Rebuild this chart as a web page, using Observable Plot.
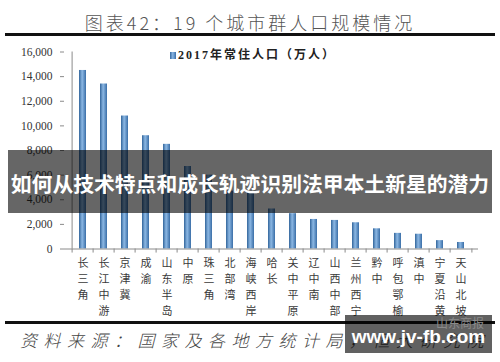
<!DOCTYPE html>
<html><head><meta charset="utf-8">
<script src="https://cdn.jsdelivr.net/npm/d3@7"></script>
<script src="https://cdn.jsdelivr.net/npm/@observablehq/plot@0.6"></script>
<style>
body{margin:0;background:#fff;}
#wrap{position:relative;width:500px;height:362px;overflow:hidden;background:#fff;}
#chart{position:absolute;left:0;top:0;}
#title{position:absolute;left:0;width:500px;top:11px;text-align:center;font:300 18px/22px "Noto Sans CJK SC",sans-serif;color:#555;letter-spacing:3px;white-space:nowrap;}
.rule{position:absolute;left:5px;width:490px;height:3px;background:#111;}
#legend{position:absolute;left:170px;top:48px;font:bold 12px/15px "Liberation Serif","Noto Sans CJK SC",serif;color:#222;letter-spacing:2px;white-space:nowrap;}
#legend .sw{display:inline-block;width:6px;height:7px;margin-right:2px;vertical-align:0px;background:linear-gradient(90deg,#35689e,#8ab6e3 45%,#3b6fa8);}
#source{position:absolute;left:20px;top:330px;font:italic 300 17px/20px "Noto Sans CJK SC",sans-serif;color:#444;letter-spacing:6.5px;white-space:nowrap;}
#banner{position:absolute;left:8px;top:150px;width:484px;height:63px;background:rgba(0,0,0,0.6);color:#fff;font:bold 20.8px/66px "Noto Sans CJK SC",sans-serif;text-align:center;white-space:nowrap;overflow:hidden;}
#wm{position:absolute;left:345px;top:315px;width:147px;height:38px;background:rgba(0,0,0,0.62);}
#wm .logo{position:absolute;right:8px;top:1px;font:12px/14px "Noto Sans CJK SC",sans-serif;color:#8a8a8a;}
#wm .url{position:absolute;left:0;width:147px;top:11px;text-align:center;font:bold 19px/22px "Liberation Sans",Arial,sans-serif;color:#fff;white-space:nowrap;}
</style></head><body>
<div id="wrap">
  <div id="chart"></div>
  <div id="title"></div>
  <div class="rule" style="top:33px"></div>
  <div id="legend"><span class="sw"></span><span id="legtext"></span></div>
  <div class="rule" style="top:321px"></div>
  <div id="source"></div>
  <div id="banner"></div>
  <div id="wm"><span class="logo">山东商报</span><span class="url"></span></div>
</div>
<script>
const titleText = "图表42：19 个城市群人口规模情况";
const legendLabel = "2017年常住人口（万人）";
const sourceText = "资料来源：国家及各地方统计局，恒大研究院";
const bannerText = "如何从技术特点和成长轨迹识别法甲本土新星的潜力";
const watermarkText = "www.jv-fb.com";

const categories = ["长三角","长江中游","京津冀","成渝","山东半岛","中原","珠三角","北部湾","海峡西岸","哈长","关中平原","辽中南","山西中部","兰州西宁","黔中","呼包鄂榆","滇中","宁夏沿黄","天山北坡"];
const population = [14500,13400,10800,9200,8500,6700,6000,4700,4600,3250,2870,2400,2320,2130,1640,1270,1200,680,530];
const yTicks = [0,2000,4000,6000,8000,10000,12000,14000,16000];

document.getElementById("title").textContent = titleText;
document.getElementById("legtext").textContent = legendLabel;
document.getElementById("source").textContent = sourceText;
document.getElementById("banner").textContent = bannerText;
document.querySelector("#wm .url").textContent = watermarkText;

const data = categories.map((c, i) => ({c, v: population[i]}));
const mL = 64, mR = 22;
const step = (500 - mL - mR) / categories.length;
const axisColor = "#8a8a8a";

const svg = Plot.plot({
  width: 500, height: 362,
  marginLeft: mL, marginRight: mR, marginTop: 51.5, marginBottom: 113.5,
  style: {background: "transparent", fontFamily: "Liberation Serif, serif", fontSize: "11.5px", color: "#333"},
  x: {type: "band", domain: categories, paddingInner: 0.68, paddingOuter: 0.34, axis: null, label: null},
  y: {domain: [0, 16000], axis: null, label: null},
  marks: [
    Plot.barY(data, {x: "c", y: "v", fill: "url(#barGrad)"}),
    Plot.ruleY([0], {stroke: axisColor}),
    Plot.ruleX([categories[0]], {dx: -step / 2, stroke: axisColor}),
    Plot.ruleX(categories, {x: d => d, dx: -step / 2, y1: 0, y2: -330, stroke: axisColor}),
    Plot.ruleX([categories[categories.length - 1]], {dx: step / 2, y1: 0, y2: -330, stroke: axisColor}),
    Plot.axisY({ticks: yTicks, tickSize: 4, tickPadding: 8, tickFormat: d3.format(","), stroke: axisColor, fill: "#333", fontSize: 11.5, label: null}),
    Plot.axisX({tickSize: 0, tickPadding: 7, tickFormat: d => [...d].join("\n"), lineHeight: 1.45, fontSize: 11, fontFamily: "Noto Sans CJK SC", fill: "#3a3a3a", label: null})
  ]
});

const defs = d3.select(svg).insert("defs", ":first-child");
const g = defs.append("linearGradient").attr("id", "barGrad").attr("x1", 0).attr("x2", 1).attr("y1", 0).attr("y2", 0);
g.append("stop").attr("offset", "0%").attr("stop-color", "#32659b");
g.append("stop").attr("offset", "45%").attr("stop-color", "#8cb8e4");
g.append("stop").attr("offset", "100%").attr("stop-color", "#3a6ea7");

document.getElementById("chart").appendChild(svg);
</script>
</body></html>
